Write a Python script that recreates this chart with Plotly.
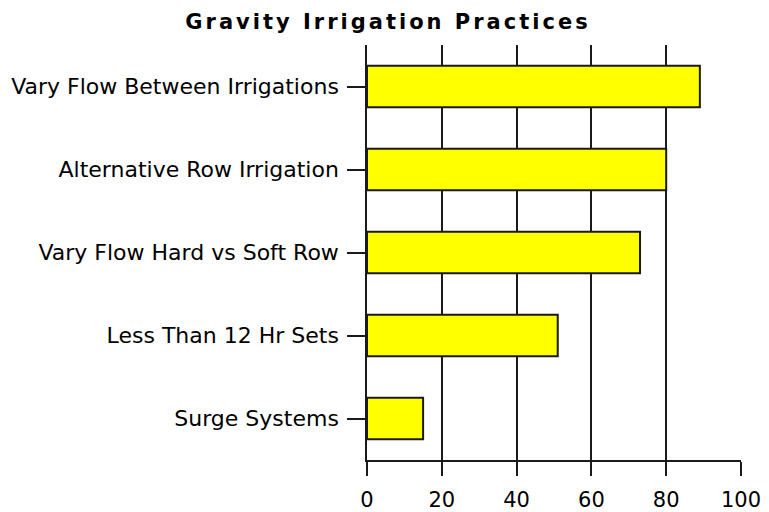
import plotly.graph_objects as go

categories = [
    "Surge Systems",
    "Less Than 12 Hr Sets",
    "Vary Flow Hard vs Soft Row",
    "Alternative Row Irrigation",
    "Vary Flow Between Irrigations",
]
values = [15, 51, 73, 80, 89]
x_ticks = [0, 20, 40, 60, 80, 100]
title_text = "Gravity Irrigation Practices"

FONT = "DejaVu Sans"
LINE = "#1a1a1a"

# page body has an 8px default margin; compensate so the plot lands where the reference has it
W, H = 761, 504

fig = go.Figure(
    go.Bar(
        y=categories,
        x=values,
        orientation="h",
        width=0.5,
        marker=dict(color="#FFFF00", line=dict(color=LINE, width=2)),
        hoverinfo="x+y",
    )
)

fig.update_layout(
    width=W,
    height=H,
    margin=dict(l=359, r=28, t=37, b=52, autoexpand=False),
    paper_bgcolor="white",
    plot_bgcolor="white",
    showlegend=False,
    title=dict(
        text='<b><span style="letter-spacing:3px">' + title_text + "</span></b>",
        x=380 / W,
        xanchor="center",
        xref="container",
        y=1 - 14 / H,
        yanchor="middle",
        yref="container",
        font=dict(family=FONT, size=21, color="black"),
    ),
    font=dict(family=FONT, size=22, color="black"),
)

fig.update_xaxes(
    range=[0, 100],
    tickvals=x_ticks,
    ticktext=[str(v) for v in x_ticks],
    automargin=False,
    showgrid=True,
    gridcolor=LINE,
    gridwidth=1.5,
    zeroline=False,
    showline=True,
    linecolor=LINE,
    linewidth=1.5,
    ticks="outside",
    ticklen=14,
    tickwidth=1.5,
    tickcolor=LINE,
    ticklabelstandoff=6,
    tickfont=dict(family=FONT, size=21, color="black"),
)

fig.update_yaxes(
    categoryorder="array",
    categoryarray=categories,
    automargin=False,
    showgrid=False,
    zeroline=False,
    showline=True,
    linecolor=LINE,
    linewidth=1.5,
    ticks="outside",
    ticklen=18,
    tickwidth=1.5,
    tickcolor=LINE,
    ticklabelstandoff=4,
    tickfont=dict(family=FONT, size=22, color="black"),
)

fig.write_html("out.html")
